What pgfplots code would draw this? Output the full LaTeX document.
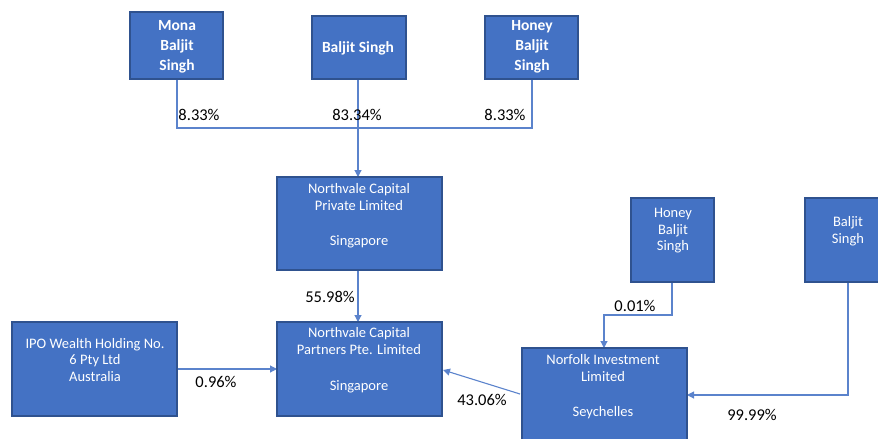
\documentclass[border=0pt]{standalone}
\usepackage{pgfplots}
\pgfplotsset{compat=1.18}
\usepackage{fontspec}
\setmainfont{Carlito}
\usetikzlibrary{arrows.meta}
\definecolor{boxblue}{HTML}{4472C4}
\definecolor{boxedge}{HTML}{2F528F}
\definecolor{linkblue}{HTML}{5B83CC}
\tikzset{
  box/.style={fill=boxblue, draw=boxedge, line width=1.1pt},
  link/.style={draw=linkblue, line width=1.1pt},
  arr/.style={draw=linkblue, line width=1.1pt, -{Triangle[width=7pt,length=7pt]}},
  txt/.style={text=white, font=\fontsize{14.5}{16.5}\selectfont, align=center},
  btxt/.style={text=white, font=\fontsize{15.5}{20}\selectfont\bfseries, align=center},
  lbl/.style={text=black, font=\fontsize{16.5}{18}\selectfont},
}
\begin{document}
\begin{tikzpicture}
\begin{axis}[
  x=1pt, y=1pt, y dir=reverse,
  xmin=0, xmax=878, ymin=0, ymax=439,
  hide axis, clip=true,
]
% ---- connectors ----
\addplot[link] coordinates {(177,79) (177,128) (532,128) (532,79)};
\addplot[arr] coordinates {(358,79) (358,177)};
\addplot[arr] coordinates {(358,270) (358,322)};
\addplot[arr] coordinates {(177,369) (277,369)};
\addplot[arr] coordinates {(520,394) (443,370)};
\addplot[arr] coordinates {(672,282) (672,315) (604,315) (604,348)};
\addplot[arr] coordinates {(848,282) (848,395) (687,395)};
% ---- boxes ----
\addplot[box] coordinates {(130,12) (223,12) (223,79) (130,79)} -- cycle;
\addplot[box] coordinates {(312,16) (406,16) (406,79) (312,79)} -- cycle;
\addplot[box] coordinates {(485,16) (578,16) (578,79) (485,79)} -- cycle;
\addplot[box] coordinates {(277,177) (442,177) (442,270) (277,270)} -- cycle;
\addplot[box] coordinates {(12,322) (177,322) (177,416) (12,416)} -- cycle;
\addplot[box] coordinates {(277,322) (442,322) (442,416) (277,416)} -- cycle;
\addplot[box] coordinates {(522,348) (687,348) (687,450) (522,450)} -- cycle;
\addplot[box] coordinates {(631,198) (714,198) (714,282) (631,282)} -- cycle;
\addplot[box] coordinates {(805,198) (890,198) (890,282) (805,282)} -- cycle;
% ---- box texts ----
\node[btxt] at (axis cs:177,47) {Mona\\Baljit\\Singh};
\node[btxt] at (axis cs:358,48) {Baljit Singh};
\node[btxt] at (axis cs:532,47) {Honey\\Baljit\\Singh};
\node[txt] at (axis cs:359,197) {Northvale Capital\\Private Limited};
\node[txt] at (axis cs:359,242) {Singapore};
\node[txt] at (axis cs:95,360) {IPO Wealth Holding No.\\6 Pty Ltd\\Australia};
\node[txt] at (axis cs:359,341) {Northvale Capital\\Partners Pte. Limited};
\node[txt] at (axis cs:359,387) {Singapore};
\node[txt] at (axis cs:603,368) {Norfolk Investment\\Limited};
\node[txt] at (axis cs:603,413) {Seychelles};
\node[txt] at (axis cs:673,231) {Honey\\Baljit\\Singh};
\node[txt] at (axis cs:848,231) {Baljit\\Singh};
% ---- percentages ----
\node[lbl] at (axis cs:199,115) {8.33\%};
\node[lbl] at (axis cs:357,115) {83.34\%};
\node[lbl] at (axis cs:505,115) {8.33\%};
\node[lbl] at (axis cs:330,297) {55.98\%};
\node[lbl] at (axis cs:216,382) {0.96\%};
\node[lbl] at (axis cs:482,400) {43.06\%};
\node[lbl] at (axis cs:635,306) {0.01\%};
\node[lbl] at (axis cs:752,415) {99.99\%};
\end{axis}
\pgfresetboundingbox
\path (current axis.south west) rectangle (current axis.north east);
\end{tikzpicture}
\end{document}
